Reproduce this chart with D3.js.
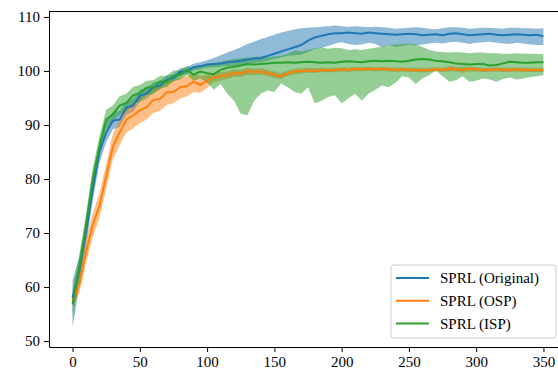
<!DOCTYPE html>
<html>
<head>
<meta charset="utf-8">
<script src="https://cdn.jsdelivr.net/npm/d3@7"></script>
<style>
  body { margin: 0; background: #fff; }
  svg { display: block; }
  text { font-family: "Liberation Serif", "Times New Roman", serif; }
</style>
</head>
<body>
<div id="chart"></div>
<script>
const WIDTH = 558;
const HEIGHT = 369;

// training steps, every 5
const steps = d3.range(0, 351, 5);

const seriesNames = ["SPRL (Original)", "SPRL (OSP)", "SPRL (ISP)"];
const seriesColors = ["#1f77b4", "#ff7f0e", "#2ca02c"];

const origMean = [58.0, 63.0, 70.0, 78.0, 85.0, 88.6, 90.8, 91.0, 93.2, 93.6,
  95.4, 95.8, 97.0, 97.3, 98.4, 98.7, 99.8, 100.0, 100.7, 100.9,
  101.2, 101.3, 101.4, 101.6, 101.7, 101.9, 102.1, 102.3, 102.4, 102.8,
  103.2, 103.6, 104.0, 104.4, 104.8, 105.6, 106.2, 106.5, 106.8, 107.0,
  107.0, 107.1, 107.0, 106.9, 107.1, 107.0, 106.9, 106.8, 106.7, 106.8,
  106.9, 106.8, 106.6, 106.7, 106.8, 106.6, 106.9, 107.0, 106.8, 106.6,
  106.7, 106.8, 106.9, 106.7, 106.6, 106.7, 106.8, 106.7, 106.6, 106.7, 106.4];
const origLow = [52.5, 60.0, 67.5, 76.0, 83.0, 86.8, 89.2, 89.6, 91.9, 92.4,
  94.2, 94.8, 96.0, 96.5, 97.6, 98.0, 99.1, 99.4, 100.1, 100.3,
  100.6, 100.7, 100.8, 100.9, 101.0, 101.1, 101.3, 101.5, 101.6, 101.9,
  102.2, 102.5, 102.8, 102.9, 103.0, 103.5, 104.0, 104.3, 104.6, 105.1,
  105.3, 105.0, 104.8, 104.9, 105.2, 105.0, 104.4, 104.8, 104.5, 104.6,
  104.9, 104.7, 104.9, 105.1, 105.2, 105.1, 105.3, 105.4, 105.2, 105.0,
  105.2, 105.3, 105.4, 105.2, 105.1, 105.0, 105.2, 105.1, 104.9, 104.8, 104.8];
const origHigh = [61.3, 65.5, 72.0, 80.0, 87.0, 90.6, 92.4, 92.6, 94.5, 94.9,
  96.5, 96.9, 97.9, 98.2, 99.2, 99.4, 100.5, 100.7, 101.4, 101.6,
  102.0, 102.4, 102.9, 103.4, 103.9, 104.4, 105.0, 105.4, 105.9, 106.3,
  106.7, 107.1, 107.4, 107.7, 107.9, 108.0, 108.1, 108.2, 108.3, 108.4,
  108.3, 108.2, 108.3, 108.2, 108.1, 108.2, 108.1, 108.0, 107.8, 107.9,
  108.0, 108.1, 108.0, 107.8, 107.7, 107.9, 108.1, 108.1, 108.0, 107.8,
  107.9, 108.0, 108.0, 107.9, 107.8, 108.0, 108.0, 107.9, 107.9, 107.8, 107.9];

const ospMean = [57.2, 60.5, 66.5, 71.5, 75.0, 80.5, 86.0, 88.6, 91.0, 91.8,
  92.7, 93.3, 94.6, 94.8, 96.0, 96.1, 97.0, 97.2, 98.0, 97.4,
  98.2, 98.8, 99.0, 99.2, 99.6, 99.5, 100.0, 99.8, 99.9, 99.6,
  99.3, 99.0, 99.6, 99.9, 100.0, 100.1, 100.0, 100.2, 100.1, 100.2,
  100.3, 100.2, 100.4, 100.3, 100.4, 100.3, 100.4, 100.3, 100.2, 100.3,
  100.2, 100.2, 100.1, 100.2, 100.3, 100.2, 100.4, 100.3, 100.2, 100.4,
  100.3, 100.2, 100.2, 100.3, 100.2, 100.2, 100.3, 100.2, 100.2, 100.2, 100.2];
const ospLow = [56.5, 58.8, 64.2, 69.2, 72.8, 78.2, 83.6, 86.2, 88.6, 89.4,
  90.3, 91.0, 92.2, 92.6, 93.7, 94.0, 94.9, 95.3, 96.1, 95.9,
  96.9, 97.9, 98.2, 98.5, 98.9, 98.9, 99.3, 99.2, 99.3, 99.0,
  98.7, 98.5, 99.1, 99.4, 99.5, 99.7, 99.6, 99.8, 99.7, 99.8,
  99.9, 99.8, 100.0, 99.9, 100.0, 99.9, 100.0, 99.9, 99.8, 99.9,
  99.8, 99.8, 99.7, 99.8, 99.9, 99.8, 99.9, 99.9, 99.6, 99.9,
  99.9, 99.8, 99.8, 99.9, 99.8, 99.8, 99.9, 99.8, 99.8, 99.8, 99.8];
const ospHigh = [58.0, 62.2, 68.8, 73.6, 77.4, 82.8, 88.4, 91.0, 93.2, 94.1,
  94.9, 95.6, 96.8, 97.1, 98.1, 98.3, 98.9, 99.1, 99.6, 99.0,
  99.4, 99.6, 99.8, 99.9, 100.3, 100.2, 100.6, 100.4, 100.5, 100.2,
  99.9, 99.6, 100.1, 100.4, 100.5, 100.6, 100.5, 100.6, 100.5, 100.6,
  100.7, 100.6, 100.8, 100.7, 100.8, 100.7, 100.8, 100.7, 100.6, 100.7,
  100.6, 100.6, 100.5, 100.6, 100.7, 100.6, 100.9, 100.8, 100.8, 100.8,
  100.7, 100.6, 100.6, 100.7, 100.6, 100.6, 100.7, 100.6, 100.6, 100.6, 100.6];

const ispMean = [56.8, 63.5, 71.5, 80.0, 86.0, 91.0, 92.0, 93.6, 94.1, 95.5,
  95.9, 96.9, 97.0, 98.0, 98.0, 99.1, 99.3, 100.2, 99.3, 99.9,
  99.6, 99.4, 100.2, 100.6, 100.8, 101.0, 101.3, 101.2, 101.3, 101.4,
  101.5, 101.5, 101.6, 101.5, 101.6, 101.7, 101.6, 101.5, 101.6, 101.5,
  101.7, 101.8, 101.7, 101.6, 101.8, 101.9, 101.8, 101.9, 101.8, 101.7,
  101.9, 102.1, 102.2, 102.1, 101.9, 101.8, 101.6, 101.4, 101.3, 101.2,
  101.3, 101.3, 101.0, 101.1, 101.4, 101.7, 101.6, 101.5, 101.5, 101.6, 101.6];
const ispLow = [54.5, 61.0, 69.5, 78.0, 84.0, 89.2, 90.6, 91.9, 92.6, 93.8,
  94.4, 95.5, 95.7, 96.8, 97.0, 98.1, 98.4, 99.3, 98.2, 98.6,
  97.8, 96.5, 97.6, 95.8, 94.5, 92.1, 91.8, 94.5, 95.8, 96.4,
  96.1, 97.7, 97.0, 96.1, 95.8, 97.0, 94.0, 94.5, 95.2, 95.5,
  94.0, 94.9, 95.8, 94.5, 95.8, 96.5, 97.3, 97.0, 97.8, 99.0,
  98.8, 97.6, 98.6, 99.2, 100.1, 99.0, 98.0, 98.3, 99.0, 98.0,
  98.2, 98.6, 98.4, 98.0, 98.5, 98.8, 98.4, 98.6, 98.9, 99.0, 99.2];
const ispHigh = [59.5, 66.0, 73.5, 82.0, 88.0, 92.8, 93.6, 95.3, 95.8, 97.1,
  97.4, 98.2, 98.3, 99.1, 99.1, 100.1, 100.2, 100.9, 100.5, 101.0,
  101.2, 101.4, 101.7, 102.0, 102.2, 102.3, 102.5, 102.6, 102.7, 102.6,
  102.7, 102.8, 103.2, 103.8, 103.6, 103.9, 104.2, 104.4, 104.1, 104.3,
  104.2, 103.9, 104.0, 103.9, 104.1, 104.3, 104.5, 104.8, 104.9, 105.0,
  105.1, 104.9, 104.5, 103.9, 103.6, 103.5, 103.4, 103.5, 103.4, 103.3,
  103.4, 103.4, 103.3, 103.3, 103.2, 103.2, 103.3, 103.2, 103.2, 103.2, 103.1];

const xTicks = [0, 50, 100, 150, 200, 250, 300, 350];
const yTicks = [50, 60, 70, 80, 90, 100, 110];

const series = [
  { mean: origMean, low: origLow, high: origHigh },
  { mean: ospMean, low: ospLow, high: ospHigh },
  { mean: ispMean, low: ispLow, high: ispHigh }
];

const svg = d3.select("#chart").append("svg")
  .attr("width", WIDTH)
  .attr("height", HEIGHT);

const plotLeft = 49, plotRight = 567, plotTop = 11, plotBottom = 347;

const x = d3.scaleLinear().domain([-17.5, 367.5]).range([plotLeft, plotRight]);
const y = d3.scaleLinear().domain([48.9, 111.1]).range([plotBottom, plotTop]);

svg.append("clipPath").attr("id", "plotclip")
  .append("rect")
  .attr("x", plotLeft).attr("y", plotTop)
  .attr("width", plotRight - plotLeft).attr("height", plotBottom - plotTop);

const plot = svg.append("g").attr("clip-path", "url(#plotclip)");

// bands first, lines on top (like matplotlib zorder)
const area = d3.area()
  .x((d, i) => x(steps[i]))
  .y0(d => y(d[0]))
  .y1(d => y(d[1]));

series.forEach((s, k) => {
  plot.append("path")
    .datum(s.low.map((v, i) => [v, s.high[i]]))
    .attr("d", area)
    .attr("fill", seriesColors[k])
    .attr("fill-opacity", 0.5)
    .attr("stroke", "none");
});

const line = d3.line()
  .x((d, i) => x(steps[i]))
  .y(d => y(d));

series.forEach((s, k) => {
  plot.append("path")
    .datum(s.mean)
    .attr("d", line)
    .attr("fill", "none")
    .attr("stroke", seriesColors[k])
    .attr("stroke-width", 2);
});

// axes
const xAxis = svg.append("g")
  .attr("transform", "translate(0," + plotBottom + ")")
  .call(d3.axisBottom(x).tickValues(xTicks).tickSize(5).tickPadding(4).tickSizeOuter(0));
const yAxis = svg.append("g")
  .attr("transform", "translate(" + plotLeft + ",0)")
  .call(d3.axisLeft(y).tickValues(yTicks).tickSize(5).tickPadding(4).tickSizeOuter(0));

[xAxis, yAxis].forEach(a => {
  a.selectAll("text").attr("font-size", 15).attr("fill", "#000")
    .style("font-family", "'Liberation Serif', serif");
  a.selectAll("line").attr("stroke", "#000").attr("stroke-width", 1);
  a.select(".domain").attr("stroke", "#000").attr("stroke-width", 1);
});

// top spine
svg.append("line")
  .attr("x1", plotLeft).attr("x2", plotRight)
  .attr("y1", plotTop + 0.5).attr("y2", plotTop + 0.5)
  .attr("stroke", "#000").attr("stroke-width", 1);

// legend
const legend = svg.append("g").attr("transform", "translate(391,265)");
legend.append("rect")
  .attr("x", 0).attr("y", 0)
  .attr("width", 165).attr("height", 73)
  .attr("rx", 3)
  .attr("fill", "#fff").attr("fill-opacity", 0.8)
  .attr("stroke", "#cccccc").attr("stroke-width", 1);

seriesNames.forEach((name, k) => {
  const row = legend.append("g").attr("transform", "translate(0," + (13 + k * 22.8) + ")");
  row.append("line")
    .attr("x1", 5).attr("x2", 38)
    .attr("stroke", seriesColors[k]).attr("stroke-width", 2);
  row.append("text")
    .attr("x", 49).attr("y", 0)
    .attr("dy", "0.35em")
    .attr("font-size", 15)
    .attr("fill", "#000")
    .text(name);
});
</script>
</body>
</html>
